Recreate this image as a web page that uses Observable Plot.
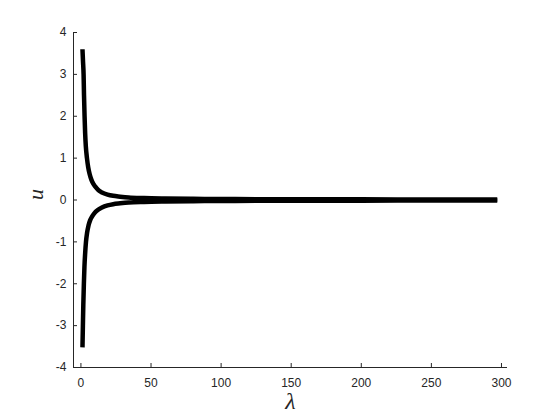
<!DOCTYPE html>
<html>
<head>
<meta charset="utf-8">
<script src="https://cdn.jsdelivr.net/npm/d3@7"></script>
<script src="https://cdn.jsdelivr.net/npm/@observablehq/plot@0.6"></script>
<style>
  html, body { margin: 0; padding: 0; background: #fff; }
</style>
</head>
<body>
<div id="chart"></div>
<script>
// Upper branch (λ, u)
const lambdaUpper = [1.1, 1.5, 1.9, 2.2, 2.6, 3.0, 3.5, 4.3, 5.2, 6.2, 7.5, 9, 11, 13, 15, 19, 23, 28, 34, 45, 60, 80, 110, 150, 200, 250, 297];
const uUpper      = [3.6, 3.3, 3.0, 2.5, 2.0, 1.6, 1.28, 1.0, 0.78, 0.62, 0.48, 0.38, 0.29, 0.22, 0.18, 0.13, 0.10, 0.08, 0.06, 0.045, 0.035, 0.028, 0.022, 0.018, 0.015, 0.013, 0.012];
// Lower branch (λ, u)
const lambdaLower = [1.1, 1.4, 1.7, 2.1, 2.5, 3.0, 3.6, 4.4, 5.4, 6.6, 8, 9.5, 12, 15, 19, 23, 28, 34, 45, 60, 80, 110, 150, 200, 250, 297];
const uLower      = [-3.52, -3.0, -2.5, -2.0, -1.6, -1.28, -1.0, -0.78, -0.61, -0.48, -0.39, -0.32, -0.24, -0.18, -0.13, -0.10, -0.08, -0.06, -0.045, -0.035, -0.028, -0.022, -0.018, -0.015, -0.013, -0.012];

const xTicks = [0, 50, 100, 150, 200, 250, 300];
const yTicks = [-4, -3, -2, -1, 0, 1, 2, 3, 4];
const xDomain = [-5.3, 304.3];
const yDomain = [-4, 4];

const upper = lambdaUpper.map((l, i) => ({lambda: l, u: uUpper[i]}));
const lower = lambdaLower.map((l, i) => ({lambda: l, u: uLower[i]}));

const tickColor = "#262626";
const fmt = d => String(d);
const serif = "'Liberation Serif', 'DejaVu Serif', serif";

const chart = Plot.plot({
  width: 560,
  height: 420,
  marginLeft: 73,
  marginRight: 53,
  marginTop: 32,
  marginBottom: 53,
  style: {background: "#fff", fontFamily: "'Liberation Sans', Arial, Helvetica, sans-serif"},
  x: {domain: xDomain},
  y: {domain: yDomain},
  marks: [
    Plot.ruleX([xDomain[0]], {stroke: tickColor, strokeWidth: 1}),
    Plot.ruleY([yDomain[0]], {stroke: tickColor, strokeWidth: 1}),
    Plot.axisX({ticks: xTicks, tickSize: -4, tickPadding: 15, tickFormat: fmt, fontSize: 12, color: tickColor, label: null}),
    Plot.axisY({ticks: yTicks, tickSize: -4, tickPadding: 11, tickFormat: fmt, fontSize: 12, color: tickColor, label: null}),
    Plot.line(upper, {x: "lambda", y: "u", stroke: "#000", strokeWidth: 4.5, strokeLinecap: "butt", strokeLinejoin: "round", curve: "monotone-x"}),
    Plot.line(lower, {x: "lambda", y: "u", stroke: "#000", strokeWidth: 4.5, strokeLinecap: "butt", strokeLinejoin: "round", curve: "monotone-x"}),
    Plot.text(["λ"], {frameAnchor: "bottom", dy: 41, fontSize: 24, fontStyle: "italic", fontFamily: serif, fill: tickColor}),
    Plot.text(["u"], {frameAnchor: "left", dx: -38, rotate: -90, fontSize: 22, fontStyle: "italic", fontFamily: serif, fill: tickColor})
  ]
});
document.getElementById("chart").appendChild(chart);
</script>
</body>
</html>
